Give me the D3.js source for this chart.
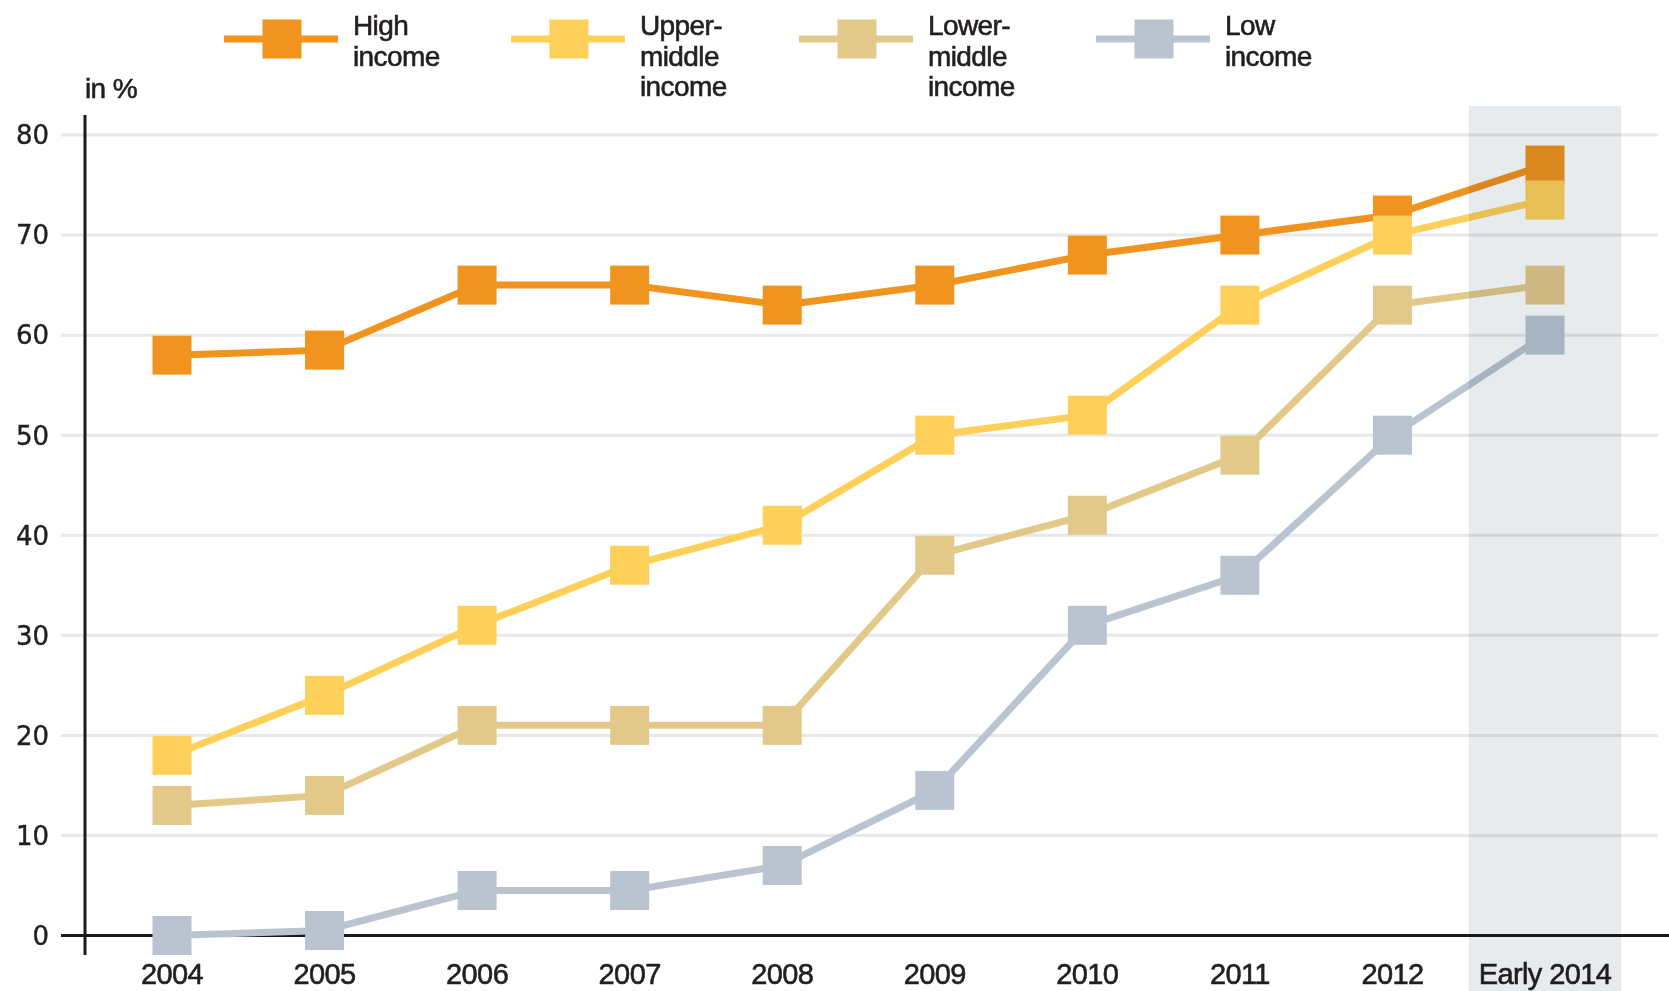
<!DOCTYPE html>
<meta charset="utf-8">
<style>
  body { margin: 0; background: #fff; }
  svg { display: block; }
  .grid line { stroke: #e8e8e8; stroke-width: 3px; }
  .ylab { font-family: "DejaVu Sans", sans-serif; font-size: 26px; fill: #231f20; stroke: #231f20; stroke-width: 0.4px; }
  .xlab { font-family: "Liberation Sans", Arial, sans-serif; font-size: 29px; fill: #231f20; stroke: #231f20; stroke-width: 0.6px; letter-spacing: -0.6px; }
  .leg { font-family: "Liberation Sans", Arial, sans-serif; font-size: 28px; fill: #231f20; stroke: #231f20; stroke-width: 0.6px; letter-spacing: -0.6px; }
  .line { fill: none; stroke-width: 7px; }
  .band { fill: #e8ebee; mix-blend-mode: multiply; }
</style>
<body>
<script src="https://cdn.jsdelivr.net/npm/d3@7"></script>
<script>

// categories and values (in %)
var years = ["2004", "2005", "2006", "2007", "2008", "2009", "2010", "2011", "2012", "Early 2014"];
var highIncome   = [58, 58.5, 65, 65, 63, 65, 68, 70, 72, 77];
var upperMiddle  = [18, 24, 31, 37, 41, 50, 52, 63, 70, 73.5];
var lowerMiddle  = [13, 14, 21, 21, 21, 38, 42, 48, 63, 65];
var lowIncome    = [0, 0.5, 4.5, 4.5, 7, 14.5, 31, 36, 50, 60];
var yTicks = [0, 10, 20, 30, 40, 50, 60, 70, 80];

var series = [
  { name: ["High", "income"], color: "#f0931f", values: highIncome },
  { name: ["Upper-", "middle", "income"], color: "#fed05a", values: upperMiddle },
  { name: ["Lower-", "middle", "income"], color: "#e2c98a", values: lowerMiddle },
  { name: ["Low", "income"], color: "#bac4d0", values: lowIncome }
];

var W = 1669, H = 991;
var sq = 39;

var svg = d3.select("body").append("svg")
    .attr("width", W)
    .attr("height", H);

// scales
var x = d3.scalePoint().domain(years).range([172, 1545]);
var y = d3.scaleLinear().domain([0, 80]).range([935.5, 135]);
var step = x.step();

// grid lines
svg.append("g").attr("class", "grid")
  .selectAll("line")
  .data(yTicks.filter(function(d) { return d > 0; }))
  .enter().append("line")
    .attr("x1", 61).attr("x2", 1658)
    .attr("y1", function(d) { return y(d); })
    .attr("y2", function(d) { return y(d); });

// y labels
svg.append("g")
  .selectAll("text")
  .data(yTicks)
  .enter().append("text")
    .attr("class", "ylab")
    .attr("x", 49)
    .attr("y", function(d) { return y(d); })
    .attr("dy", "0.36em")
    .attr("text-anchor", "end")
    .text(function(d) { return d; });

svg.append("text")
    .attr("class", "leg")
    .attr("x", 85).attr("y", 98)
    .text("in %");

// x labels
svg.append("g")
  .selectAll("text")
  .data(years)
  .enter().append("text")
    .attr("class", "xlab")
    .attr("x", function(d) { return x(d); })
    .attr("y", 984)
    .attr("text-anchor", "middle")
    .text(function(d) { return d; });

// axes lines
svg.append("line")
    .attr("x1", 61).attr("x2", W)
    .attr("y1", y(0)).attr("y2", y(0))
    .attr("stroke", "#1a1a1a").attr("stroke-width", 3);
svg.append("line")
    .attr("x1", 85).attr("x2", 85)
    .attr("y1", 115).attr("y2", 955)
    .attr("stroke", "#1a1a1a").attr("stroke-width", 3);

// lines + markers
var line = d3.line()
    .x(function(d, i) { return x(years[i]); })
    .y(function(d) { return y(d); });

series.forEach(function(s) {
  var g = svg.append("g");
  g.append("path")
      .datum(s.values)
      .attr("class", "line")
      .attr("stroke", s.color)
      .attr("d", line);
  g.selectAll("rect")
    .data(s.values)
    .enter().append("rect")
      .attr("x", function(d, i) { return x(years[i]) - sq / 2; })
      .attr("y", function(d) { return y(d) - sq / 2; })
      .attr("width", sq)
      .attr("height", sq)
      .attr("fill", s.color);
});

// shaded band for the last period
var last = years[years.length - 1];
svg.append("rect")
    .attr("class", "band")
    .attr("x", x(last) - step / 2)
    .attr("y", 106)
    .attr("width", step)
    .attr("height", H - 106);

// legend
var legX = [282, 569, 857, 1154];
series.forEach(function(s, i) {
  var g = svg.append("g").attr("transform", "translate(" + legX[i] + ",39)");
  g.append("line")
      .attr("x1", -58).attr("x2", 56)
      .attr("stroke", s.color).attr("stroke-width", 7);
  g.append("rect")
      .attr("x", -sq / 2).attr("y", -sq / 2)
      .attr("width", sq).attr("height", sq)
      .attr("fill", s.color);
  s.name.forEach(function(t, j) {
    g.append("text")
        .attr("class", "leg")
        .attr("x", 71)
        .attr("y", -4 + j * 30.5)
        .text(t);
  });
});

</script>
</body>
